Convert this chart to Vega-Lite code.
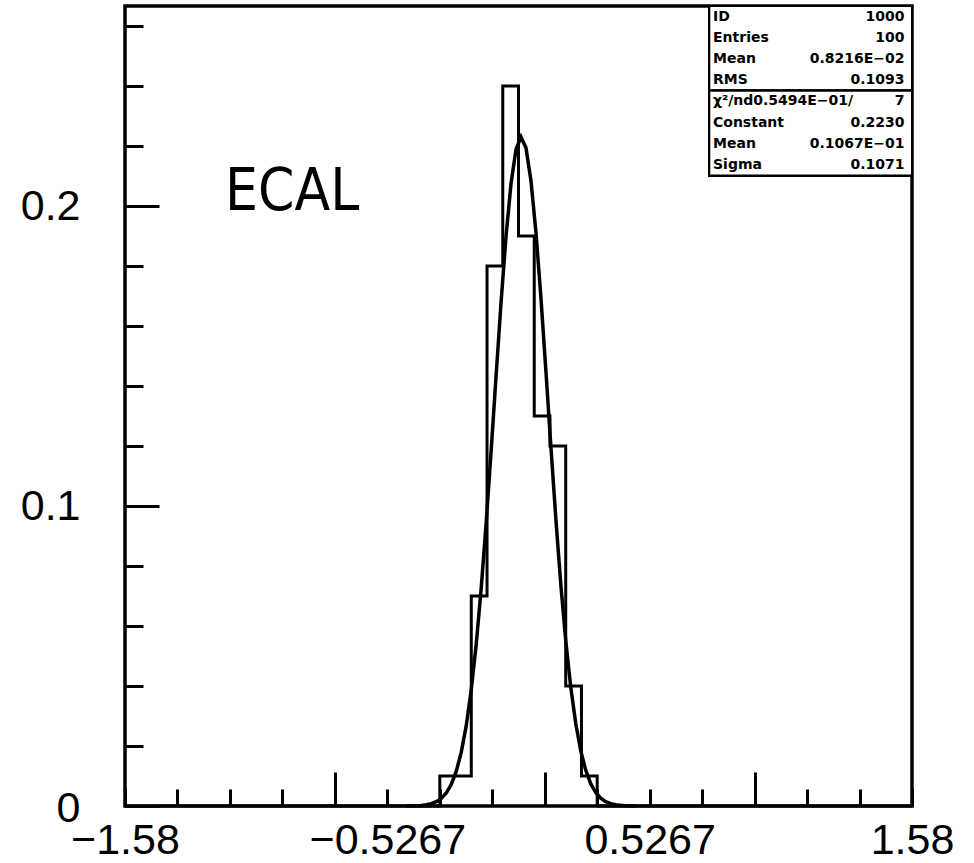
{
  "$schema": "https://vega.github.io/schema/vega-lite/v6.json",
  "width": 787,
  "height": 800,
  "autosize": {"type": "none"},
  "padding": {"left": 125, "top": 6, "right": 62, "bottom": 57},
  "background": "white",
  "config": {
    "view": {"stroke": "black", "strokeWidth": 3.5}
  },
  "datasets": {
    "hist": [
      {"xlo": -1.58, "count": 0}, {"xlo": -1.5168, "count": 0}, {"xlo": -1.4536, "count": 0},
      {"xlo": -1.3904, "count": 0}, {"xlo": -1.3272, "count": 0}, {"xlo": -1.264, "count": 0},
      {"xlo": -1.2008, "count": 0}, {"xlo": -1.1376, "count": 0}, {"xlo": -1.0744, "count": 0},
      {"xlo": -1.0112, "count": 0}, {"xlo": -0.948, "count": 0}, {"xlo": -0.8848, "count": 0},
      {"xlo": -0.8216, "count": 0}, {"xlo": -0.7584, "count": 0}, {"xlo": -0.6952, "count": 0},
      {"xlo": -0.632, "count": 0}, {"xlo": -0.5688, "count": 0}, {"xlo": -0.5056, "count": 0},
      {"xlo": -0.4424, "count": 0}, {"xlo": -0.3792, "count": 0}, {"xlo": -0.316, "count": 0.01},
      {"xlo": -0.2528, "count": 0.01}, {"xlo": -0.1896, "count": 0.07}, {"xlo": -0.1264, "count": 0.18},
      {"xlo": -0.0632, "count": 0.24}, {"xlo": 0, "count": 0.19}, {"xlo": 0.0632, "count": 0.13},
      {"xlo": 0.1264, "count": 0.12}, {"xlo": 0.1896, "count": 0.04}, {"xlo": 0.2528, "count": 0.01},
      {"xlo": 0.316, "count": 0}, {"xlo": 0.3792, "count": 0}, {"xlo": 0.4424, "count": 0},
      {"xlo": 0.5056, "count": 0}, {"xlo": 0.5688, "count": 0}, {"xlo": 0.632, "count": 0},
      {"xlo": 0.6952, "count": 0}, {"xlo": 0.7584, "count": 0}, {"xlo": 0.8216, "count": 0},
      {"xlo": 0.8848, "count": 0}, {"xlo": 0.948, "count": 0}, {"xlo": 1.0112, "count": 0},
      {"xlo": 1.0744, "count": 0}, {"xlo": 1.1376, "count": 0}, {"xlo": 1.2008, "count": 0},
      {"xlo": 1.264, "count": 0}, {"xlo": 1.3272, "count": 0}, {"xlo": 1.3904, "count": 0},
      {"xlo": 1.4536, "count": 0}, {"xlo": 1.5168, "count": 0}, {"xlo": 1.58, "count": 0}
    ],
    "fit": [
      {"x": -0.45, "f": 0.00002}, {"x": -0.43, "f": 0.00005}, {"x": -0.41, "f": 0.0001},
      {"x": -0.39, "f": 0.0002}, {"x": -0.37, "f": 0.0004}, {"x": -0.35, "f": 0.00077},
      {"x": -0.33, "f": 0.00142}, {"x": -0.31, "f": 0.00252}, {"x": -0.29, "f": 0.00433},
      {"x": -0.27, "f": 0.0072}, {"x": -0.25, "f": 0.01154}, {"x": -0.23, "f": 0.01786},
      {"x": -0.21, "f": 0.0267}, {"x": -0.19, "f": 0.03855}, {"x": -0.17, "f": 0.05375},
      {"x": -0.15, "f": 0.07238}, {"x": -0.13, "f": 0.09413}, {"x": -0.11, "f": 0.1182},
      {"x": -0.09, "f": 0.14337}, {"x": -0.07, "f": 0.16793}, {"x": -0.05, "f": 0.18994},
      {"x": -0.03, "f": 0.20749}, {"x": -0.01, "f": 0.21889}, {"x": 0.01, "f": 0.223},
      {"x": 0.03, "f": 0.2194}, {"x": 0.05, "f": 0.20846}, {"x": 0.07, "f": 0.19128},
      {"x": 0.09, "f": 0.1695}, {"x": 0.11, "f": 0.14506}, {"x": 0.13, "f": 0.11987},
      {"x": 0.15, "f": 0.09568}, {"x": 0.17, "f": 0.07374}, {"x": 0.19, "f": 0.05489},
      {"x": 0.21, "f": 0.03946}, {"x": 0.23, "f": 0.0274}, {"x": 0.25, "f": 0.01836},
      {"x": 0.27, "f": 0.01189}, {"x": 0.29, "f": 0.00743}, {"x": 0.31, "f": 0.00449},
      {"x": 0.33, "f": 0.00262}, {"x": 0.35, "f": 0.00147}, {"x": 0.37, "f": 0.0008},
      {"x": 0.39, "f": 0.00042}, {"x": 0.41, "f": 0.00021}, {"x": 0.43, "f": 0.00011},
      {"x": 0.45, "f": 0.00005}, {"x": 0.47, "f": 0.00002}
    ],
    "stats": [
      {"row": 0, "name": "ID", "val": "1000"},
      {"row": 1, "name": "Entries", "val": "100"},
      {"row": 2, "name": "Mean", "val": "0.8216E−02"},
      {"row": 3, "name": "RMS", "val": "0.1093"},
      {"row": 4, "name": "χ²/nd0.5494E−01/", "val": "7"},
      {"row": 5, "name": "Constant", "val": "0.2230"},
      {"row": 6, "name": "Mean", "val": "0.1067E−01"},
      {"row": 7, "name": "Sigma", "val": "0.1071"}
    ],
    "tag": [{"label": "ECAL"}]
  },
  "layer": [
    {
      "layer": [
        {
          "data": {"name": "hist"},
          "mark": {"type": "line", "interpolate": "step-after", "color": "black", "strokeWidth": 3},
          "encoding": {
            "x": {
              "field": "xlo", "type": "quantitative", "title": null,
              "scale": {"domain": [-1.58, 1.58], "nice": false, "zero": false},
              "axis": {
                "values": [-1.58, -1.369333, -1.158667, -0.948, -0.737333, -0.526667, -0.316, -0.105333,
                           0.105333, 0.316, 0.526667, 0.737333, 0.948, 1.158667, 1.369333, 1.58],
                "domain": false, "grid": false, "ticks": true,
                "tickColor": "black", "tickWidth": 3,
                "tickSize": {"condition": {"test": "abs(datum.value + 0.737333) < 0.001 || abs(datum.value - 0.105333) < 0.001 || abs(datum.value - 0.948) < 0.001", "value": -34}, "value": -17},
                "labelExpr": "abs(datum.value + 1.58) < 0.001 ? '−1.58' : abs(datum.value + 0.526667) < 0.001 ? '−0.5267' : abs(datum.value - 0.526667) < 0.001 ? '0.5267' : abs(datum.value - 1.58) < 0.001 ? '1.58' : ''",
                "labelFont": "Liberation Sans", "labelFontSize": 43, "labelColor": "black",
                "labelPadding": 30, "labelAngle": 0, "labelAlign": "center", "labelBaseline": "top",
                "labelOverlap": false, "labelBound": false, "labelFlush": false
              }
            },
            "y": {
              "field": "count", "type": "quantitative", "title": null,
              "scale": {"domain": [0, 0.26667], "nice": false, "zero": false},
              "axis": {
                "values": [0, 0.02, 0.04, 0.06, 0.08, 0.1, 0.12, 0.14, 0.16, 0.18, 0.2, 0.22, 0.24, 0.26],
                "domain": false, "grid": false, "ticks": true,
                "tickColor": "black", "tickWidth": 3,
                "tickSize": {"condition": {"test": "datum.value === 0 || datum.value === 0.1 || datum.value === 0.2", "value": -34}, "value": -18},
                "labelExpr": "datum.value === 0 ? '0' : datum.value === 0.1 ? '0.1' : datum.value === 0.2 ? '0.2' : ''",
                "labelFont": "Liberation Sans", "labelFontSize": 43, "labelColor": "black",
                "labelPadding": 79, "labelAlign": "right", "labelBaseline": "middle",
                "labelOffset": {"condition": {"test": "datum.value === 0", "value": 2}, "value": 0},
                "labelOverlap": false, "labelBound": false, "labelFlush": false
              }
            }
          }
        },
        {
          "data": {"name": "fit"},
          "mark": {"type": "line", "color": "black", "strokeWidth": 3.5},
          "encoding": {
            "x": {"field": "x", "type": "quantitative", "title": null},
            "y": {"field": "f", "type": "quantitative", "title": null}
          }
        },
        {
          "data": {"name": "tag"},
          "mark": {"type": "text", "align": "left", "baseline": "alphabetic", "font": "'DejaVu Sans Condensed', 'Liberation Sans Narrow', 'Liberation Sans', sans-serif", "fontSize": 58, "color": "black"},
          "encoding": {
            "text": {"field": "label"},
            "x": {"datum": -1.178, "type": "quantitative", "title": null},
            "y": {"datum": 0.1987, "type": "quantitative", "title": null}
          }
        }
      ]
    },
    {
      "data": {"name": "stats"},
      "layer": [
        {
          "mark": {"type": "rect", "fill": "white", "stroke": "black", "strokeWidth": 2},
          "encoding": {
            "x": {"datum": 0.766, "type": "quantitative", "title": null},
            "x2": {"datum": 1.58},
            "y": {"datum": -0.5, "type": "quantitative", "title": null, "axis": null,
                  "scale": {"domain": [-0.5, 37.24], "reverse": true, "nice": false, "zero": false}},
            "y2": {"datum": 3.5}
          }
        },
        {
          "mark": {"type": "rect", "fill": "white", "stroke": "black", "strokeWidth": 2},
          "encoding": {
            "x": {"datum": 0.766, "type": "quantitative", "title": null},
            "x2": {"datum": 1.58},
            "y": {"datum": 3.5, "type": "quantitative", "title": null, "axis": null},
            "y2": {"datum": 7.5}
          }
        },
        {
          "mark": {"type": "text", "align": "left", "baseline": "middle", "font": "DejaVu Sans", "fontWeight": "bold", "fontSize": 14, "color": "black"},
          "encoding": {
            "text": {"field": "name"},
            "x": {"datum": 0.781, "type": "quantitative", "title": null},
            "y": {"field": "row", "type": "quantitative", "title": null, "axis": null}
          }
        },
        {
          "mark": {"type": "text", "align": "right", "baseline": "middle", "font": "DejaVu Sans", "fontWeight": "bold", "fontSize": 14, "color": "black"},
          "encoding": {
            "text": {"field": "val"},
            "x": {"datum": 1.55, "type": "quantitative", "title": null},
            "y": {"field": "row", "type": "quantitative", "title": null, "axis": null}
          }
        }
      ]
    }
  ],
  "resolve": {"scale": {"y": "independent"}, "axis": {"y": "independent"}}
}
